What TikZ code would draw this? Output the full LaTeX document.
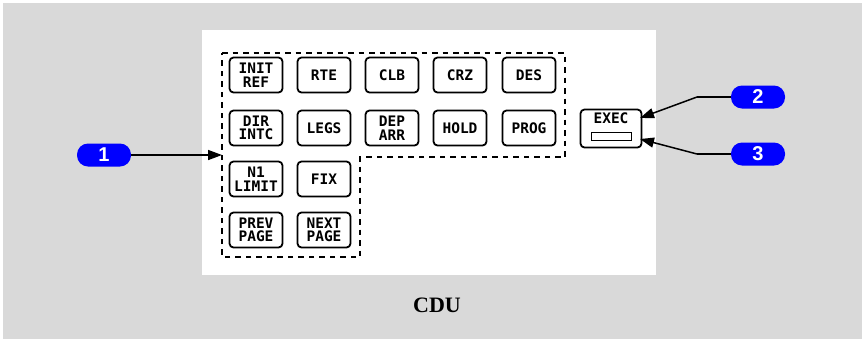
\documentclass[tikz,border=0pt]{standalone}
\usepackage{fontspec}
\setmainfont{Liberation Serif}
\newfontfamily\keyfont{DejaVu Sans Mono}
\newfontfamily\calloutfont{Liberation Sans}
\usetikzlibrary{arrows.meta, positioning, calc}
\definecolor{panelgray}{RGB}{217,217,217}
\definecolor{calloutblue}{RGB}{0,0,255}
\tikzset{
  panel/.style={fill=panelgray, draw=none},
  screen/.style={fill=white, draw=none},
  cdukey/.style={rectangle, rounded corners=4pt, draw=black, line width=1.8pt,
                 fill=white, minimum width=53pt, minimum height=35pt, inner sep=0pt,
                 align=center, font=\keyfont\bfseries\fontsize{14.5}{13.5}\selectfont},
  keygroup/.style={draw=black, line width=2pt, dash pattern=on 5.5pt off 5pt},
  execkey/.style={cdukey, minimum width=61pt, minimum height=38pt},
  execlamp/.style={rectangle, draw=black, line width=1.6pt, fill=white,
                   minimum width=40pt, minimum height=8pt, inner sep=0pt},
  callout/.style={rectangle, rounded corners=11pt, fill=calloutblue, text=white,
                  minimum width=54pt, minimum height=23pt, inner sep=0pt,
                  font=\calloutfont\bfseries\fontsize{20}{20}\selectfont},
  calloutarr/.style={draw=black, line width=1.5pt, -{Triangle[length=14pt, width=10pt]}},
  calloutline/.style={draw=black, line width=1.5pt},
  caption/.style={font=\bfseries\fontsize{22}{22}\selectfont},
}

\begin{document}
\begin{tikzpicture}[x=1pt, y=-1pt]
\useasboundingbox (0,0) rectangle (865,341);

\fill[panel] (3,3) rectangle (862,339);
\fill[screen] (202,30) rectangle (656,275);

% key group outline
\draw[keygroup] (222,53) -- (565,53) -- (565,157) -- (360,157)
  -- (360,257) -- (222,257) -- cycle;

\node[cdukey] (kInit) at (256, 75) {INIT\\REF};
\node[cdukey] (kRte)  at (324, 75) {RTE};
\node[cdukey] (kClb)  at (392, 75) {CLB};
\node[cdukey] (kCrz)  at (460, 75) {CRZ};
\node[cdukey] (kDes)  at (529, 75) {DES};

\node[cdukey] (kDir)  at (256,128) {DIR\\INTC};
\node[cdukey] (kLegs) at (324,128) {LEGS};
\node[cdukey] (kDep)  at (392,128) {DEP\\ARR};
\node[cdukey] (kHold) at (460,128) {HOLD};
\node[cdukey] (kProg) at (529,128) {PROG};

\node[cdukey] (kNone) at (256,179) {N1\\LIMIT};
\node[cdukey] (kFix)  at (324,179) {FIX};

\node[cdukey] (kPrev) at (256,230) {PREV\\PAGE};
\node[cdukey] (kNext) at (324,230) {NEXT\\PAGE};

% exec key
\node[execkey] (kExec) at (611,128.5) {};
\node[font=\keyfont\bfseries\fontsize{14.5}{14.5}\selectfont] (execlbl) at (611,118) {EXEC};
\node[execlamp] (lamp) at (611.5,136.5) {};

% callouts
\node[callout] (c1) at (104,155) {1};
\node[callout] (c2) at (758,97) {2};
\node[callout] (c3) at (758,154) {3};

\coordinate (grpedge) at (222,155);
\coordinate (bend2) at (697,97);
\coordinate (bend3) at (697,154);
\coordinate (execin) at (640,118);
\coordinate (lampin) at (640,139);

\draw[calloutarr] (c1) -- (grpedge);
\draw[calloutline] (c2.west) -- (bend2);
\draw[calloutarr] (bend2) -- (execin);
\draw[calloutline] (c3.west) -- (bend3);
\draw[calloutarr] (bend3) -- (lampin);

\node[caption] (cdu) at (437,305) {CDU};

\end{tikzpicture}
\end{document}
